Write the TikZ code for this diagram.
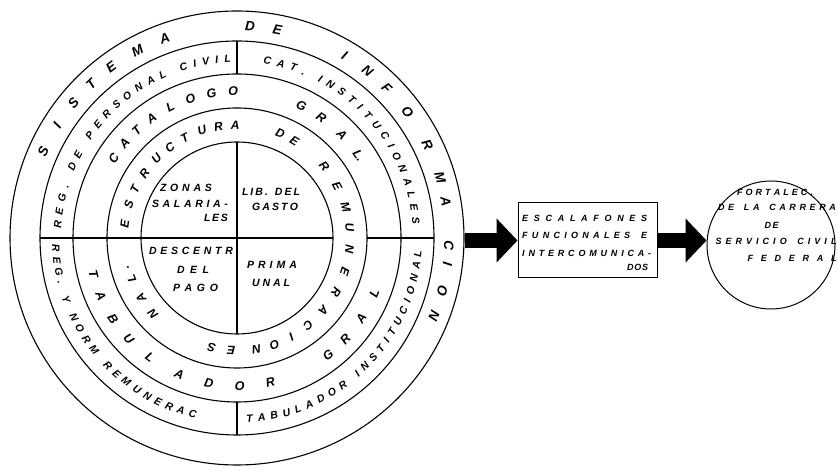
\documentclass[tikz,border=0pt]{standalone}
\usepackage{fontspec}
\setmainfont{Liberation Sans}
\usetikzlibrary{arrows.meta,decorations.text}
\makeatletter
\def\spr@rest#1{\ifx\relax#1\else\hfil#1\expandafter\spr@rest\fi}
\def\spr@first#1{#1\spr@rest}
\newcommand\spreadbox[2]{\makebox[#1][s]{\spr@first#2\relax}}
\makeatother
\newcommand\ringfont{\bfseries\itshape\fontsize{10.5}{10.5}\selectfont}
\begin{document}
\begin{tikzpicture}[x=1pt,y=1pt,
  ln/.style={line width=1.1pt},
  outl/.style={inner sep=0pt, font=\bfseries\itshape\fontsize{13.5}{13.5}\selectfont},
  r3l/.style={inner sep=0pt, font=\bfseries\itshape\fontsize{12.5}{12.5}\selectfont},
  r4l/.style={inner sep=0pt, font=\bfseries\itshape\fontsize{12}{12}\selectfont},
  inlab/.style={inner sep=0pt, font=\bfseries\itshape\fontsize{10.5}{10.5}\selectfont},
  smlab/.style={inner sep=0pt, font=\bfseries\itshape\fontsize{9}{9}\selectfont},
  bigarrow/.style={line width=15pt, -{Triangle[length=21pt,width=43pt]}},
  ringtext/.style={decorate, decoration={text along path, text align=fit to path, text={|\ringfont|#1}}}
]
\useasboundingbox (0,0) rectangle (838,473);

\begin{scope}[shift={(237,235)}]
  % circles
  \node[circle, draw, ln, minimum size=454pt, inner sep=0pt] (bigc) at (0,0) {};
  \draw[ln] (0,0) circle[radius=197pt];
  \draw[ln] (0,0) circle[radius=164pt];
  \draw[ln] (0,0) circle[radius=130pt];
  \draw[ln] (0,0) circle[radius=96pt];
  % dividing lines
  \draw[ln] (90:164) -- (90:197);
  \draw[ln] (270:164) -- (270:197);
  \draw[ln] (0,96) -- (0,-96);
  \draw[ln] (-197,0) -- (96,0);
  \draw[ln] (130,0) -- (197,0);

  % outer ring
  \foreach \l/\a [count=\i] in {S/156, I/148, S/140.5, T/133.5, E/126.5, M/118, A/110,
      D/86.5, E/79, I/59.5, N/52, F/45, O/36.5, R/26, M/16.5, A/10, C/-2, I/-7, O/-14.5, N/-21.5}
    \node[outl, rotate={\a-90}] (o\i) at (\a:212) {\l};

  % ring 2 texts
  \path[ringtext={REG. DE PERSONAL CIVIL}] (177:176) arc[start angle=177, end angle=92, radius=176pt];
  \path[ringtext={CAT. INSTITUCIONALES}] (81.5:176) arc[start angle=81.5, end angle=4.5, radius=176pt];
  \path[ringtext={REG. Y NORM REMUNERAC}] (182:185) arc[start angle=182, end angle=257, radius=185pt];
  \path[ringtext={TABULADOR INSTITUCIONAL}] (273:185) arc[start angle=273, end angle=356, radius=185pt];

  % ring 3
  \foreach \l/\a [count=\i] in {C/147, A/140, T/133, A/125.5, L/117, O/108.5, G/100, O/91.5,
      G/64, R/55, A/44.5, L./34}
    \node[r3l, rotate={\a-90}] (c\i) at (\a:147) {\l};
  \foreach \l/\a [count=\i] in {T/194, A/203, B/213, U/223, L/234, A/247, D/259, O/271, R/283,
      G/308, R/317, A/327, L/338}
    \node[r3l, rotate={\a+90}] (t\i) at (\a:148) {\l};

  % ring 4
  \foreach \l/\a [count=\i] in {E/173, S/163, T/154.5, R/145, U/135.5, C/126.5, T/117.5, U/108,
      R/99.5, A/91, D/67.5, E/59.5, R/39.5, E/27.5, M/16, U/5.5, N/-5.5, E/-17.5, R/-28.5,
      A/-40, C/-51, I/-61, O/-70.5, N/-80, E/-93, S/-103, N/-138, A/-148, L/-159, ./-165}
    \node[r4l, rotate={\a-90}] (e\i) at (\a:113) {\l};
\end{scope}

% inner quadrants
\node[inlab] (q1) at (186,285) {\spreadbox{52pt}{ZONAS}};
\node[inlab] (q2) at (190,269) {\spreadbox{76pt}{SALARIA-}};
\node[inlab] (q3) at (216,255) {\spreadbox{24pt}{LES}};
\node[inlab] (q4) at (271,281) {\spreadbox{58pt}{LIB.~DEL}};
\node[inlab] (q5) at (275,266) {\spreadbox{46pt}{GASTO}};
\node[inlab] (q6) at (191,222) {\spreadbox{84pt}{DESCENTR}};
\node[inlab] (q7) at (193,203) {\spreadbox{32pt}{DEL}};
\node[inlab] (q8) at (195.5,185) {\spreadbox{45pt}{PAGO}};
\node[inlab] (q9) at (272,208) {\spreadbox{50pt}{PRIMA}};
\node[inlab] (q10) at (271,190) {\spreadbox{38pt}{UNAL}};

% box
\node[draw, line width=1pt, minimum width=139pt, minimum height=75pt, inner sep=0pt] (box) at (587.5,232.5) {};
\node[smlab, anchor=west] (b1) at (522,255) {\spreadbox{125pt}{ESCALAFONES}};
\node[smlab, anchor=west] (b2) at (522,238) {\spreadbox{125pt}{FUNCIONALES~E}};
\node[smlab, anchor=west] (b3) at (522,220) {\spreadbox{129pt}{INTERCOMUNICA-}};
\node[smlab, anchor=west] (b4) at (627,206) {\spreadbox{21pt}{DOS}};

% small circle
\node[circle, draw, line width=1pt, minimum size=128pt, inner sep=0pt] (smallc) at (771,228) {};
\node[smlab] (f1) at (775,281) {\spreadbox{76pt}{FORTALEC.}};
\node[smlab] (f2) at (777,266) {\spreadbox{118pt}{DE~LA~CARRERA}};
\node[smlab] (f3) at (771.5,248) {\spreadbox{14pt}{DE}};
\node[smlab] (f4) at (776,232) {\spreadbox{121pt}{SERVICIO~CIVIL}};
\node[smlab] (f5) at (792,215) {\spreadbox{89pt}{FEDERAL}};

% arrows
\draw[bigarrow] (box.west -| bigc.east) -- (box.west);
\draw[bigarrow] (box.east) -- (box.east -| smallc.west);
\end{tikzpicture}
\end{document}
